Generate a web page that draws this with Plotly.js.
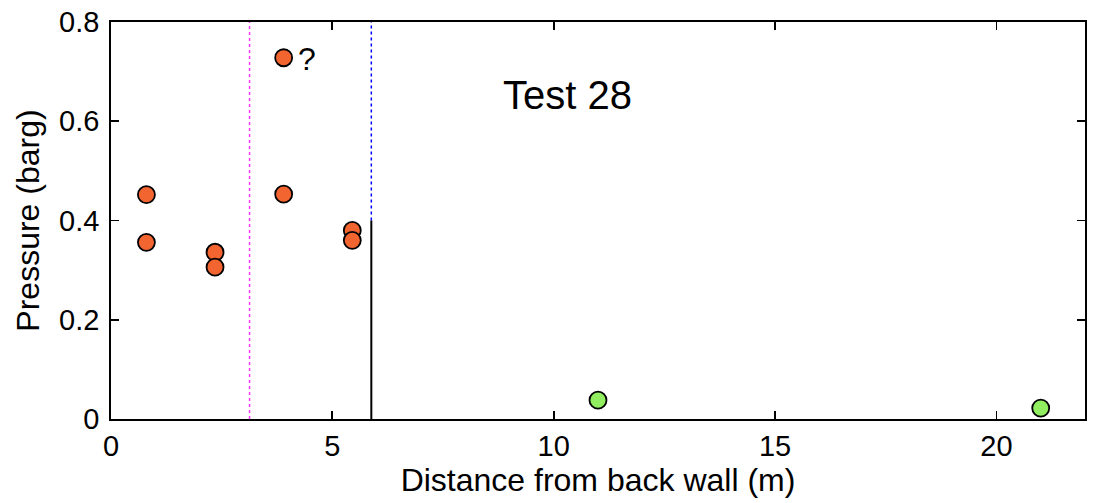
<!DOCTYPE html>
<html><head><meta charset="utf-8">
<script src="https://cdn.plot.ly/plotly-3.0.1.min.js"></script>
<style>html,body{margin:0;padding:0;background:#fff}#chart{width:1099px;height:503px}</style>
</head><body><div id="chart"></div>
<script>
const orangeX = [0.8, 0.8, 2.35, 2.35, 3.9, 3.9, 5.45, 5.45];
const orangeY = [0.452, 0.356, 0.336, 0.306, 0.728, 0.453, 0.38, 0.36];
const greenX = [11, 21];
const greenY = [0.038, 0.022];
const magentaLineX = [3.13, 3.13];
const magentaLineY = [0, 0.8];
const blueLineX = [5.88, 5.88];
const blueLineY = [0.4, 0.8];
const blackLineX = [5.88, 5.88];
const blackLineY = [0, 0.4];
const xTicks = [0, 5, 10, 15, 20];
const yTicks = [0, 0.2, 0.4, 0.6, 0.8];
const yTickText = ['0', '0.2', '0.4', '0.6', '0.8'];
const question = {x: 4.42, y: 0.725, text: '?'};
const testLabel = {x: 10.3, y: 0.653, text: 'Test 28'};

const font = 'Liberation Sans, Arial, sans-serif';
const traces = [
  {x: magentaLineX, y: magentaLineY, mode: 'lines', line: {color: '#ff33ff', width: 1.5, dash: 'dot'}, hoverinfo: 'skip'},
  {x: blueLineX, y: blueLineY, mode: 'lines', line: {color: '#0000ff', width: 1.5, dash: 'dot'}, hoverinfo: 'skip'},
  {x: blackLineX, y: blackLineY, mode: 'lines', line: {color: '#000000', width: 2}, hoverinfo: 'skip'},
  {x: orangeX, y: orangeY, mode: 'markers', marker: {size: 17, color: '#f26530', line: {color: '#000', width: 1.8}}},
  {x: greenX, y: greenY, mode: 'markers', marker: {size: 17, color: '#90ee60', line: {color: '#000', width: 1.8}}}
];
const layout = {
  width: 1099, height: 503,
  margin: {l: 111, r: 14, t: 22, b: 84},
  showlegend: false,
  paper_bgcolor: '#fff', plot_bgcolor: '#fff',
  font: {family: font, color: '#000', size: 29},
  xaxis: {
    range: [0, 22], tickvals: xTicks, ticktext: xTicks.map(String),
    ticks: 'inside', ticklen: 8, tickwidth: 1.8, tickcolor: '#000',
    showline: true, linecolor: '#000', linewidth: 1.8, mirror: 'ticks',
    showgrid: false, zeroline: false,
    tickfont: {size: 29, family: font},
    title: {text: 'Distance from back wall (m)', font: {size: 32, family: font}, standoff: 4}
  },
  yaxis: {
    range: [0, 0.8], tickvals: yTicks, ticktext: yTickText,
    ticks: 'inside', ticklen: 8, tickwidth: 1.8, tickcolor: '#000',
    showline: true, linecolor: '#000', linewidth: 1.8, mirror: 'ticks',
    showgrid: false, zeroline: false, ticklabelstandoff: 4,
    tickfont: {size: 29, family: font},
    title: {text: 'Pressure (barg)', font: {size: 32, family: font}, standoff: 10}
  },
  annotations: [
    {x: question.x, y: question.y, text: question.text, showarrow: false, font: {size: 32, family: font}},
    {x: testLabel.x, y: testLabel.y, text: testLabel.text, showarrow: false, font: {size: 40, family: font}}
  ]
};
Plotly.newPlot('chart', traces, layout, {displayModeBar: false, staticPlot: true});
</script></body></html>
